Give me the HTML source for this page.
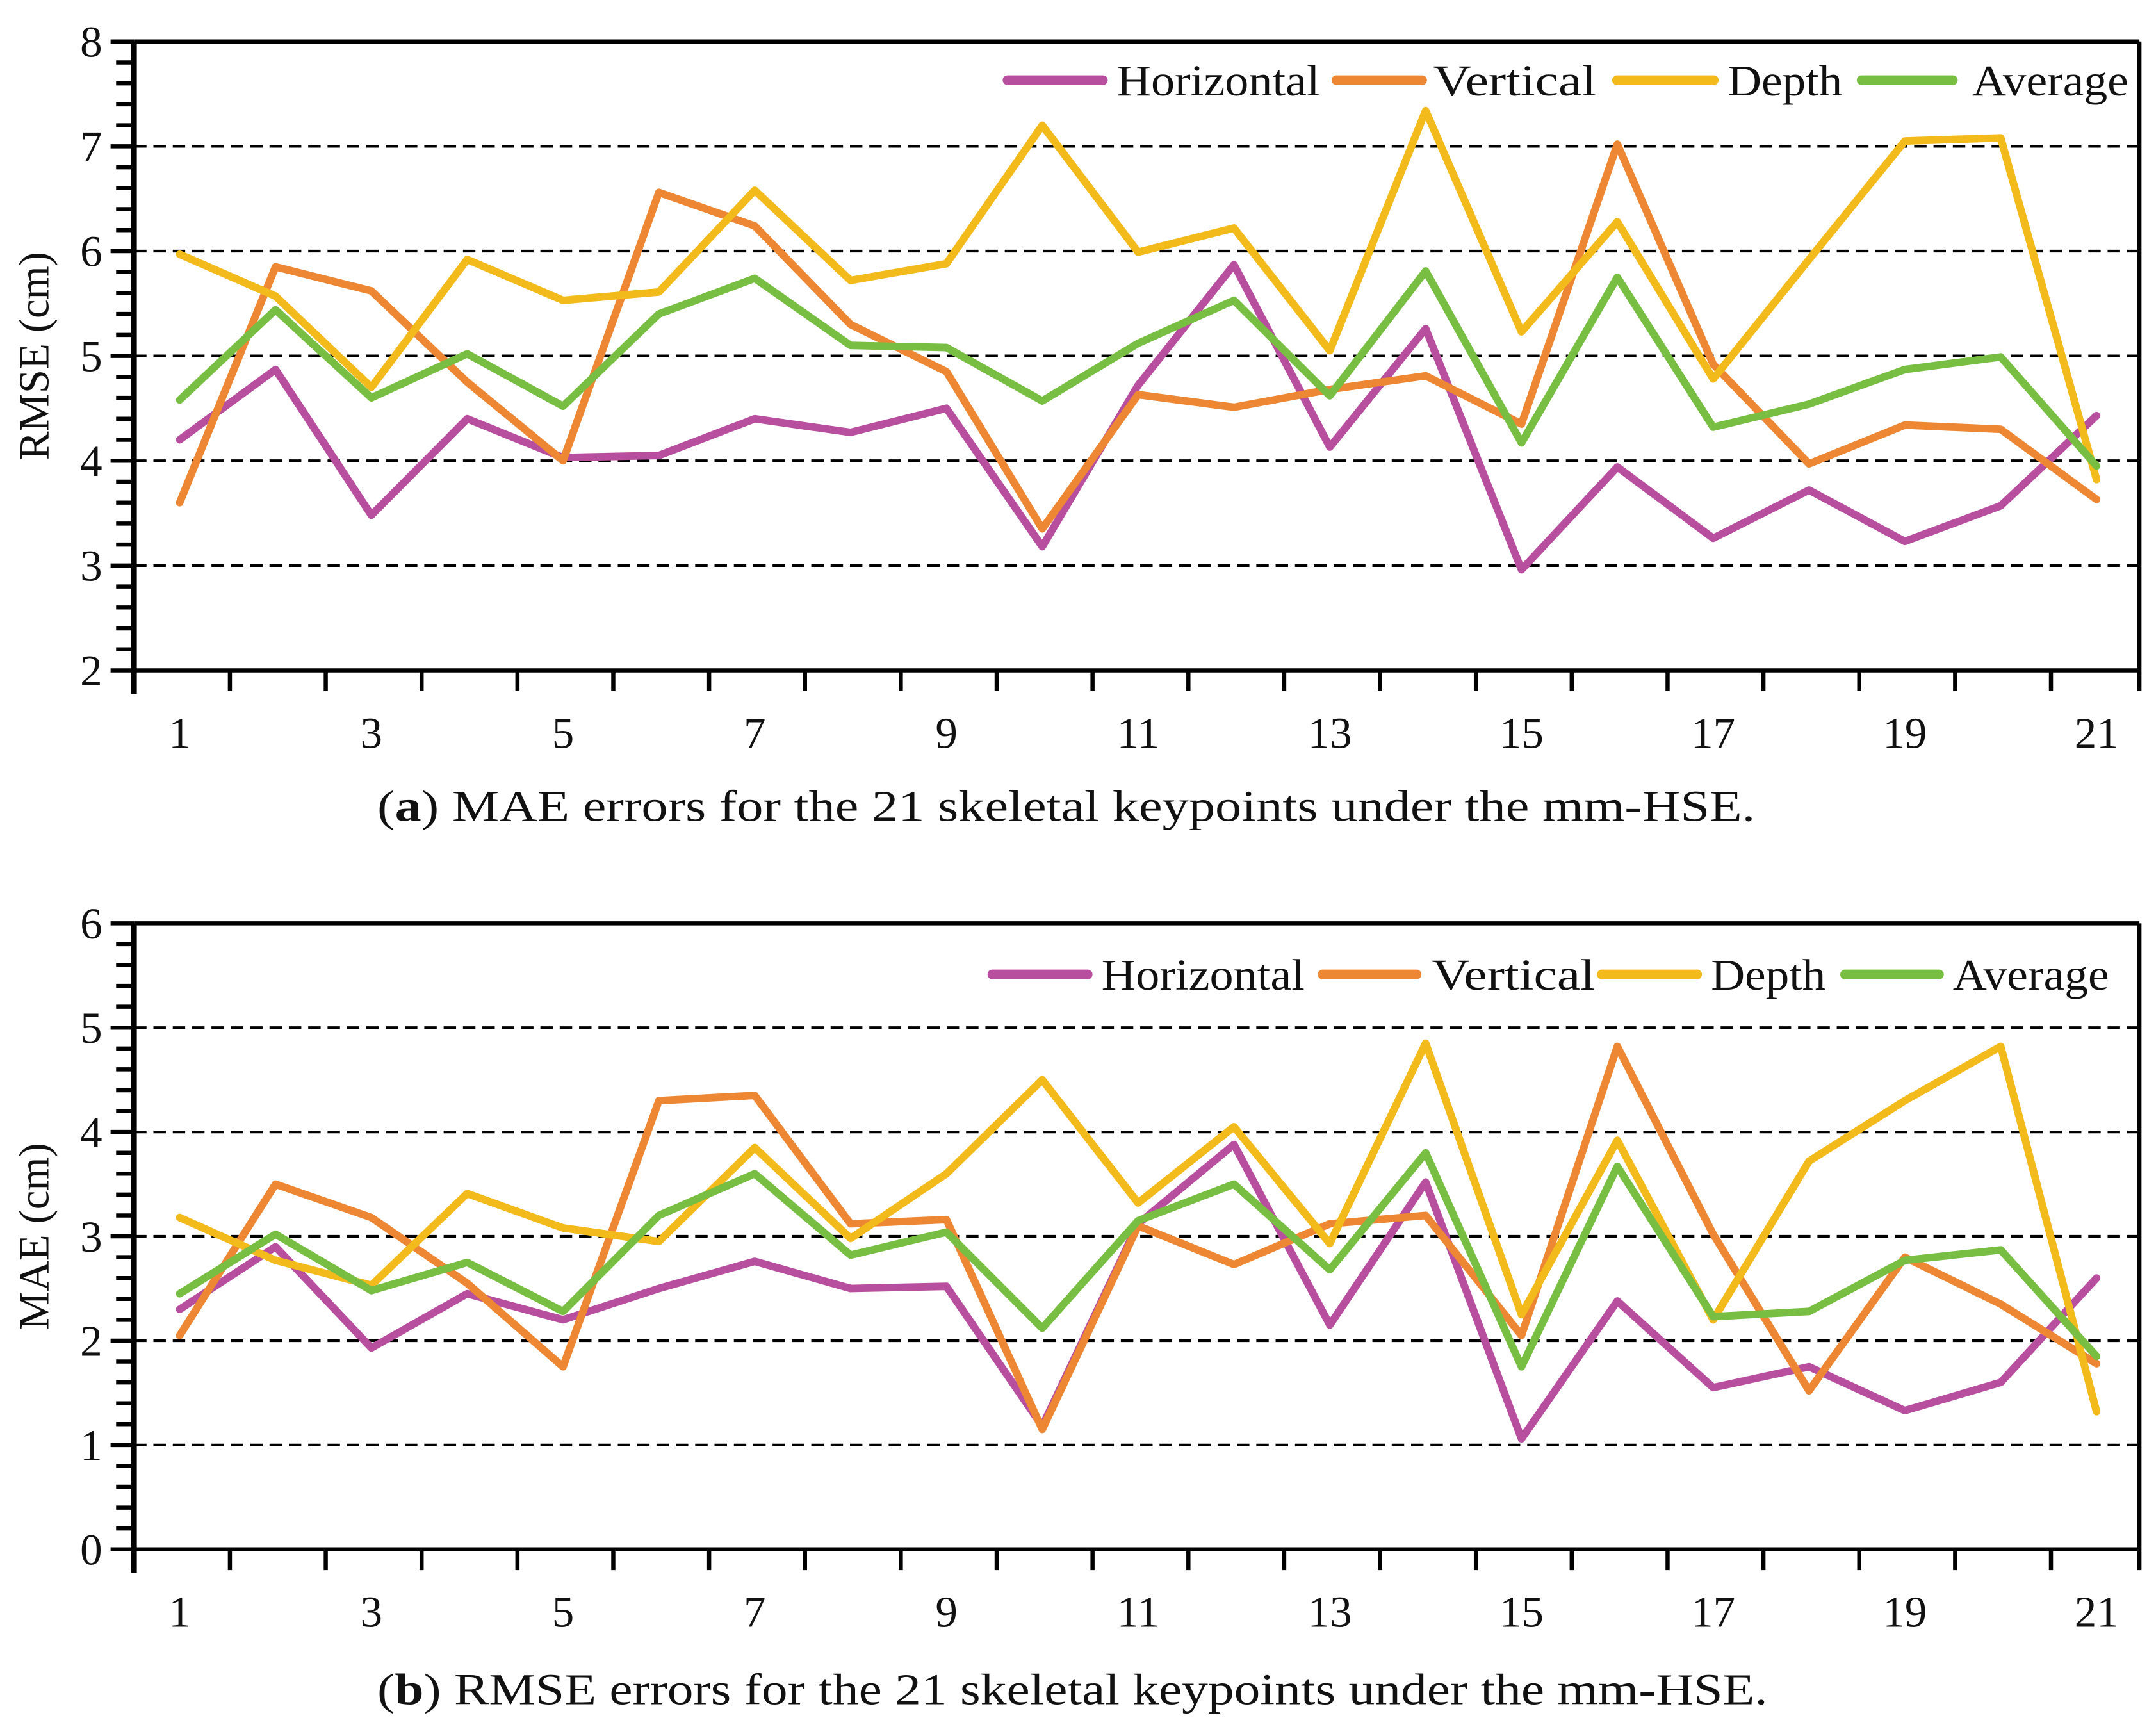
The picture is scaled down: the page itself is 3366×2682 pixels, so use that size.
<!DOCTYPE html>
<html><head><meta charset="utf-8"><style>
html,body{margin:0;padding:0;background:#fff;}
svg{display:block;}
text{font-family:"Liberation Serif",serif;fill:#111;}
</style></head><body>
<svg id="chart" width="3366" height="2682" viewBox="0 0 1560 1243" xmlns="http://www.w3.org/2000/svg"></svg>
<script>
const categories = [1,2,3,4,5,6,7,8,9,10,11,12,13,14,15,16,17,18,19,20,21];
const xTickLabels = [1,3,5,7,9,11,13,15,17,19,21];
const seriesNames = ["Horizontal","Vertical","Depth","Average"];
const seriesColors = ["#B84F9E","#EE8733","#F2BA1A","#78BE43"];
const topTicks = [2,3,4,5,6,7,8];
const bottomTicks = [0,1,2,3,4,5,6];
const topHorizontal = [4.2,4.87,3.48,4.4,4.03,4.05,4.4,4.27,4.5,3.18,4.72,5.87,4.13,5.26,2.96,3.94,3.26,3.72,3.23,3.57,4.43];
const topVertical = [3.6,5.85,5.62,4.75,4.0,6.56,6.24,5.3,4.85,3.35,4.63,4.51,4.68,4.81,4.35,7.02,4.92,3.97,4.34,4.3,3.63];
const topDepth = [5.97,5.57,4.7,5.92,5.53,5.61,6.58,5.72,5.88,7.2,5.99,6.22,5.05,7.34,5.23,6.28,4.78,5.92,7.05,7.08,3.82];
const topAverage = [4.58,5.44,4.6,5.02,4.52,5.4,5.74,5.1,5.08,4.57,5.12,5.53,4.62,5.81,4.17,5.75,4.32,4.54,4.87,4.99,3.95];
const botHorizontal = [2.3,2.9,1.93,2.45,2.2,2.5,2.76,2.5,2.52,1.18,3.12,3.88,2.15,3.52,1.06,2.38,1.55,1.75,1.33,1.6,2.6];
const botVertical = [2.05,3.5,3.18,2.55,1.75,4.3,4.35,3.12,3.16,1.15,3.1,2.73,3.12,3.2,2.05,4.82,3.02,1.52,2.8,2.35,1.78];
const botDepth = [3.18,2.77,2.53,3.41,3.08,2.95,3.85,2.98,3.6,4.5,3.32,4.05,2.93,4.85,2.25,3.92,2.2,3.72,4.3,4.82,1.32];
const botAverage = [2.45,3.02,2.48,2.75,2.28,3.2,3.6,2.82,3.04,2.12,3.15,3.5,2.68,3.8,1.75,3.67,2.23,2.28,2.77,2.87,1.85];

const NS="http://www.w3.org/2000/svg";
const svg=document.getElementById('chart');
function mk(tag,attrs,parent){const e=document.createElementNS(NS,tag);for(const k in attrs)e.setAttribute(k,attrs[k]);(parent||svg).appendChild(e);return e;}
const legendTextLen=[147,118,83,113];

function panel(cfg){
  const g=mk('g',{});
  
  
  const L=97,R=1548,T=cfg.top,B=cfg.bottom;
  const x=v=>130+(v-1)*69.35;
  const y=v=>B-(v-cfg.min)/(cfg.max-cfg.min)*(B-T);
  cfg.ticks.forEach(t=>{ if(t>cfg.min&&t<cfg.max){const l=mk('line',{x1:L,x2:R,y1:y(t),y2:y(t),stroke:'#000','stroke-width':2,'stroke-dasharray':'9,5'},g);
    
    }});
  for(let v=cfg.min;v<=cfg.max+1e-6;v+=0.2){const major=Math.abs(v-Math.round(v))<1e-6;
    mk('line',{x1:major?80:84,x2:L,y1:y(v),y2:y(v),stroke:'#000','stroke-width':3},g);}
  for(let k=0;k<=21;k++){const xv=L+k*69.35; if(xv>R+2)break; mk('line',{x1:xv,x2:xv,y1:B,y2:B+15,stroke:'#000','stroke-width':3},g);}
  mk('line',{x1:L,x2:R,y1:T,y2:T,stroke:'#000','stroke-width':3},g);
  mk('line',{x1:L,x2:R,y1:B,y2:B,stroke:'#000','stroke-width':3},g);
  mk('line',{x1:R,x2:R,y1:T,y2:B+15,stroke:'#000','stroke-width':3},g);
  mk('line',{x1:L,x2:L,y1:T,y2:B+17,stroke:'#000','stroke-width':4},g);
  cfg.ticks.forEach(t=>{const tx=mk('text',{x:74,y:y(t)+11,'text-anchor':'end','font-size':32},g);tx.textContent=t;
    
    });
  xTickLabels.forEach(t=>{const tx=mk('text',{x:x(t),y:B+56,'text-anchor':'middle','font-size':32},g);tx.textContent=t;
    
    });
  const yl=mk('text',{x:0,y:0,'text-anchor':'middle','font-size':31,transform:`translate(35,${(T+B)/2}) rotate(-90)`},g);
  yl.textContent=cfg.ylabel;
  
  
  cfg.series.forEach((vals,i)=>{
    const p=mk('polyline',{points:vals.map((v,j)=>x(categories[j])+','+y(v)).join(' '),fill:'none',stroke:seriesColors[i],'stroke-width':5.5,'stroke-linejoin':'round','stroke-linecap':'round'},g);
    
    
  });
  cfg.legend.forEach((lg,i)=>{
    const lgG=mk('g',{},g);
    
    
    mk('line',{x1:lg[0],x2:lg[1],y1:cfg.ly,y2:cfg.ly,stroke:seriesColors[i],'stroke-width':7,'stroke-linecap':'round'},lgG);
    const t=mk('text',{x:lg[2],y:cfg.ly+11,'font-size':32,textLength:legendTextLen[i],lengthAdjust:'spacingAndGlyphs'},lgG);t.textContent=seriesNames[i];
  });
  const c=mk('text',{x:273,y:cfg.capY,'font-size':32,textLength:cfg.capLen,lengthAdjust:'spacingAndGlyphs'},g);
  c.innerHTML='(<tspan font-weight="bold">'+cfg.capLetter+'</tspan>) '+cfg.caption;
  
  
}
panel({name:'top-chart',top:30,bottom:485,min:2,max:8,ticks:topTicks,ylabel:'RMSE (cm)',
  series:[topHorizontal,topVertical,topDepth,topAverage],ly:58,
  legend:[[729,798,808],[967,1029,1037],[1170,1240,1250],[1347,1413,1427]],
  capY:594,capLen:997,capLetter:'a',caption:'MAE errors for the 21 skeletal keypoints under the mm-HSE.'});
panel({name:'bottom-chart',top:668,bottom:1121,min:0,max:6,ticks:bottomTicks,ylabel:'MAE (cm)',
  series:[botHorizontal,botVertical,botDepth,botAverage],ly:705,
  legend:[[718,787,797],[957,1025,1036],[1159,1228,1238],[1335,1403,1413]],
  capY:1233,capLen:1006,capLetter:'b',caption:'RMSE errors for the 21 skeletal keypoints under the mm-HSE.'});
</script>
</body></html>
